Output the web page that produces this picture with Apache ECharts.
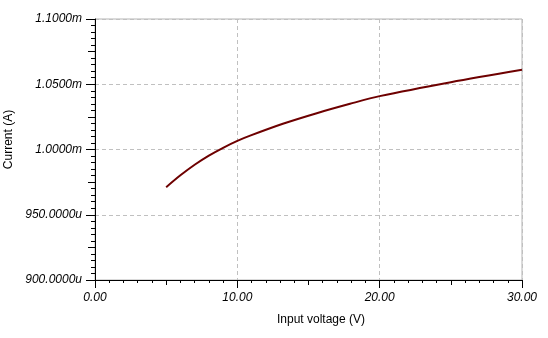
<!DOCTYPE html>
<html>
<head>
<meta charset="utf-8">
<script src="https://cdn.jsdelivr.net/npm/echarts@6/dist/echarts.min.js"></script>
<style>
html,body{margin:0;padding:0;background:#fff;}
#c{width:548px;height:338px;}
</style>
</head>
<body>
<div id="c"></div>
<script>
// Input voltage (V)
var voltage = [5.0, 6.0, 7.0, 8.0, 9.0, 10.0, 10.9, 13.2, 15.58, 17.92, 20.0, 25.0, 30.0];
// Current in microamps (uA)
var currentUA = [971.1, 980.2, 988.3, 995.3, 1001.3, 1006.6, 1010.6, 1019.7, 1027.8, 1035.0, 1040.9, 1051.6, 1061.1];
var xTicks = [0, 10, 20, 30];
var yTicks = [900, 950, 1000, 1050, 1100];

var data = voltage.map(function (v, i) { return [v, currentUA[i]]; });
var font = '"Liberation Sans", Arial, sans-serif';

function yFmt(v) {
  if (v >= 1000) return (v / 1000).toFixed(4) + 'm';
  return v.toFixed(4) + 'u';
}

var chart = echarts.init(document.getElementById('c'), null, {renderer: 'canvas'});
chart.setOption({
  animation: false,
  backgroundColor: '#ffffff',
  grid: {left: 95, right: 26, top: 19, bottom: 58, show: true, borderColor: '#b4b4b4', borderWidth: 1,
    containLabel: false, outerBoundsMode: 'none'},
  xAxis: [{
    type: 'value', min: xTicks[0], max: xTicks[xTicks.length - 1], interval: 10,
    position: 'bottom',
    name: 'Input voltage (V)', nameLocation: 'middle', nameGap: 34,
    nameTextStyle: {fontFamily: font, fontSize: 12, color: '#000', padding: [0, 0, 0, 25]},
    axisLine: {show: true, onZero: false, lineStyle: {color: '#000', width: 1}},
    axisTick: {show: true, inside: false, length: 8, lineStyle: {color: '#000'}},
    minorTick: {show: true, splitNumber: 10, length: 3, lineStyle: {color: '#000'}},
    axisLabel: {fontFamily: font, fontSize: 12, fontStyle: 'italic', color: '#000', margin: 12,
      formatter: function (v) { return v.toFixed(2); }},
    splitLine: {show: true, lineStyle: {color: '#c0c0c0', type: [4, 3], width: 1}}
  }, {
    type: 'value', min: 0, max: 30, interval: 5, position: 'bottom', gridIndex: 0,
    axisLine: {show: false, onZero: false},
    axisTick: {show: true, length: 5, lineStyle: {color: '#000'}},
    axisLabel: {show: false}, splitLine: {show: false}
  }],
  yAxis: [{
    type: 'value', min: yTicks[0], max: yTicks[yTicks.length - 1], interval: 50,
    position: 'left',
    name: 'Current (A)', nameLocation: 'middle', nameGap: 69,
    nameTextStyle: {fontFamily: font, fontSize: 12, color: '#000', padding: [0, 0, 0, 20]},
    axisLine: {show: true, onZero: false, lineStyle: {color: '#000', width: 1}},
    axisTick: {show: true, inside: false, length: 9, lineStyle: {color: '#000'}},
    minorTick: {show: true, splitNumber: 10, length: 4, lineStyle: {color: '#000'}},
    axisLabel: {fontFamily: font, fontSize: 12, fontStyle: 'italic', color: '#000', margin: 13,
      formatter: yFmt},
    splitLine: {show: true, lineStyle: {color: '#c0c0c0', type: [4, 3], width: 1}}
  }, {
    type: 'value', min: 900, max: 1100, interval: 25, position: 'left', gridIndex: 0,
    axisLine: {show: false, onZero: false},
    axisTick: {show: true, length: 7, lineStyle: {color: '#000'}},
    axisLabel: {show: false}, splitLine: {show: false}
  }],
  series: [{
    type: 'line', data: data, xAxisIndex: 0, yAxisIndex: 0,
    smooth: 0.3, showSymbol: false, symbol: 'none',
    lineStyle: {color: '#6e0000', width: 2}
  }]
});
</script>
</body>
</html>
